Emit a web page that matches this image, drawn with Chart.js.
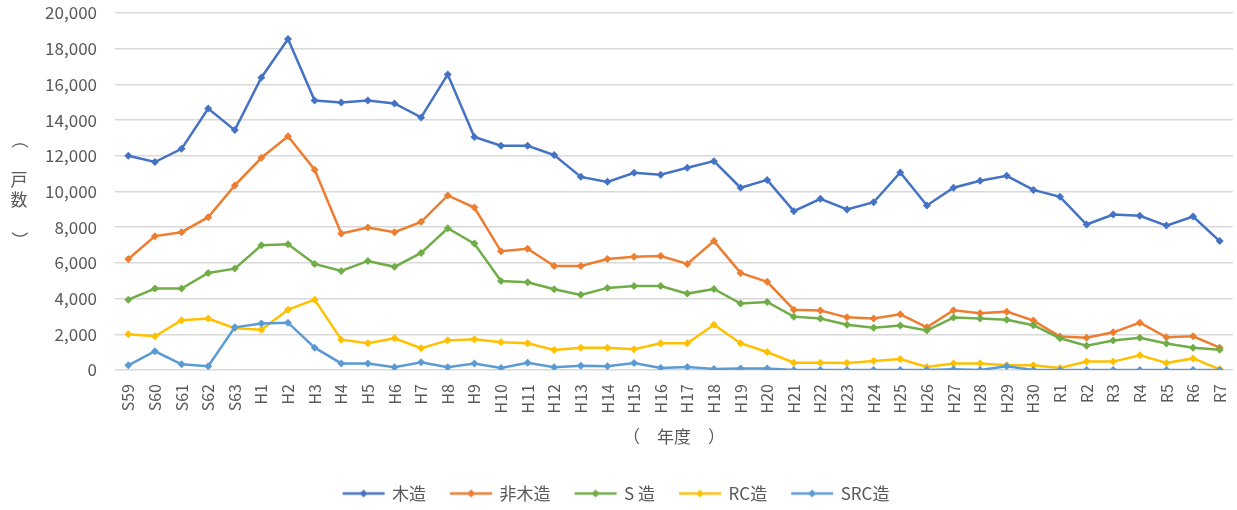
<!DOCTYPE html>
<html>
<head>
<meta charset="utf-8">
<script src="https://cdn.jsdelivr.net/npm/chart.js@4.4.1/dist/chart.umd.min.js"></script>
<style>
  html, body { margin: 0; padding: 0; background: #fff; }
  #wrap { width: 1237px; height: 510px; }
</style>
</head>
<body>
<div id="wrap"><canvas id="chartKosu" width="1237" height="510"></canvas></div>
<script>
const nendo = [
  "S59", "S60", "S61", "S62", "S63",
  "H1", "H2", "H3", "H4", "H5", "H6", "H7", "H8", "H9", "H10",
  "H11", "H12", "H13", "H14", "H15", "H16", "H17", "H18", "H19", "H20",
  "H21", "H22", "H23", "H24", "H25", "H26", "H27", "H28", "H29", "H30",
  "R1", "R2", "R3", "R4", "R5", "R6", "R7"
];

const mokuzo = [
  12000, 11650, 12390, 14650, 13440,
  16390, 18540, 15100, 14990, 15100, 14930, 14150, 16560, 13050, 12560,
  12560, 12040, 10820, 10540, 11050, 10940, 11330, 11700, 10210, 10650,
  8900, 9590, 8990, 9400, 11070, 9220, 10210, 10600, 10880, 10090,
  9700, 8150, 8710, 8640, 8090, 8600, 7220
];
const hiMokuzo = [
  6220, 7500, 7720, 8560, 10340,
  11890, 13100, 11220, 7650, 7980, 7720, 8300, 9780, 9100, 6650,
  6790, 5830, 5830, 6220, 6340, 6390, 5940, 7220, 5440, 4940,
  3380, 3330, 2950, 2880, 3120, 2390, 3350, 3180, 3270, 2770,
  1870, 1810, 2110, 2650, 1830, 1890, 1250
];
const sZo = [
  3940, 4560, 4560, 5440, 5680,
  6990, 7050, 5940, 5550, 6110, 5780, 6560, 7940, 7080, 4990,
  4920, 4520, 4210, 4600, 4710, 4710, 4280, 4540, 3720, 3810,
  2990, 2880, 2540, 2370, 2490, 2210, 2940, 2880, 2820, 2510,
  1780, 1360, 1650, 1810, 1480, 1250, 1140
];
const rcZo = [
  2000, 1890, 2790, 2880, 2340,
  2260, 3380, 3940, 1700, 1500, 1780, 1220, 1660, 1720, 1550,
  1500, 1120, 1250, 1250, 1160, 1500, 1500, 2540, 1500, 1010,
  410, 410, 390, 510, 620, 170, 360, 360, 260, 260,
  110, 470, 470, 820, 390, 650, 40
];
const srcZo = [
  260, 1050, 320, 210, 2390,
  2600, 2650, 1250, 370, 370, 150, 430, 150, 370, 110,
  410, 150, 240, 210, 390, 110, 170, 60, 90, 90,
  0, 0, 0, 0, 0, 0, 40, 0, 210, 0,
  0, 0, 0, 0, 0, 0, 0
];

const seriesNames = ["木造", "非木造", "S 造", "RC造", "SRC造"];
const seriesColors = ["#4472C4", "#ED7D31", "#70AD47", "#FFC000", "#5B9BD5"];
const seriesData = [mokuzo, hiMokuzo, sZo, rcZo, srcZo];

const yTitle = "（　戸数　）";
const xTitle = "（　年度　）";

const textColor = "#595959";
const fontFamily = '"Noto Sans CJK JP", "Noto Sans", sans-serif';

// legend symbol: short line with a diamond in the middle
function legendSymbol(color) {
  const c = document.createElement("canvas");
  c.width = 46;
  c.height = 12;
  const g = c.getContext("2d");
  g.strokeStyle = color;
  g.lineWidth = 2.5;
  g.beginPath();
  g.moveTo(2, 6);
  g.lineTo(44, 6);
  g.stroke();
  g.fillStyle = color;
  g.beginPath();
  g.moveTo(23, 2);
  g.lineTo(27, 6);
  g.lineTo(23, 10);
  g.lineTo(19, 6);
  g.closePath();
  g.fill();
  return c;
}
const symbols = seriesColors.map(legendSymbol);

// y title written vertically, one character per cell, brackets turned sideways
const verticalTitle = {
  id: "verticalTitle",
  afterDraw(chart) {
    const ctx = chart.ctx;
    ctx.save();
    ctx.fillStyle = textColor;
    ctx.font = "17px " + fontFamily;
    ctx.textAlign = "center";
    ctx.textBaseline = "middle";
    const x = 19;
    let y = 140;
    Array.from(yTitle).forEach(function (ch) {
      if (ch === "（" || ch === "）") {
        ctx.save();
        ctx.translate(x, y);
        ctx.rotate(Math.PI / 2);
        ctx.fillText(ch, 0, 0);
        ctx.restore();
      } else if (ch !== "　") {
        ctx.fillText(ch, x, y);
      }
      y += 20;
    });
    ctx.restore();
  }
};

const legendPlace = {
  id: "legendPlace",
  afterLayout(chart) {
    if (chart.legend) chart.legend.top = 460;
  }
};

const canvas = document.getElementById("chartKosu");

new Chart(canvas, {
  type: "line",
  data: {
    labels: nendo,
    datasets: seriesNames.map(function (name, i) {
      return {
        label: name,
        data: seriesData[i],
        borderColor: seriesColors[i],
        backgroundColor: seriesColors[i],
        borderWidth: 2.5,
        pointStyle: "rectRot",
        pointRadius: 4,
        pointBorderWidth: 0,
        tension: 0,
        fill: false
      };
    }).reverse()
  },
  options: {
    responsive: false,
    animation: false,
    devicePixelRatio: 1,
    layout: { padding: { left: 0, right: 4, top: 13, bottom: 0 } },
    plugins: {
      legend: {
        position: "bottom",
        reverse: true,
        labels: {
          usePointStyle: true,
          pointStyleWidth: 40,
          padding: 25,
          color: textColor,
          font: { size: 17, family: fontFamily },
          generateLabels(chart) {
            const items = Chart.defaults.plugins.legend.labels.generateLabels(chart);
            items.forEach(function (it) {
              const idx = seriesNames.indexOf(it.text);
              it.pointStyle = symbols[idx];
            });
            return items;
          }
        }
      },
      tooltip: { enabled: false }
    },
    scales: {
      x: {
        offset: true,
        grid: { display: false, drawTicks: false },
        border: { display: false },
        ticks: {
          color: textColor,
          font: { size: 16, family: fontFamily },
          minRotation: 90,
          maxRotation: 90,
          autoSkip: false,
          padding: 14
        },
        title: {
          display: true,
          text: xTitle,
          color: textColor,
          font: { size: 17, family: fontFamily },
          padding: { top: 0, bottom: 11 }
        },
        afterFit(scale) {
          scale.height = 88;
          scale.paddingLeft = 0;
          scale.paddingRight = 0;
        }
      },
      y: {
        min: 0,
        max: 20000,
        grid: { color: "#d9d9d9", lineWidth: 1.5, drawTicks: false },
        border: { display: false },
        ticks: {
          stepSize: 2000,
          color: textColor,
          font: { size: 17, family: fontFamily },
          padding: 18,
          callback: function (v) { return v.toLocaleString("en-US"); }
        },
        afterFit(scale) {
          scale.width = 115;
          scale.paddingTop = 0;
          scale.paddingBottom = 0;
        }
      }
    }
  },
  plugins: [verticalTitle, legendPlace]
});
</script>
</body>
</html>
